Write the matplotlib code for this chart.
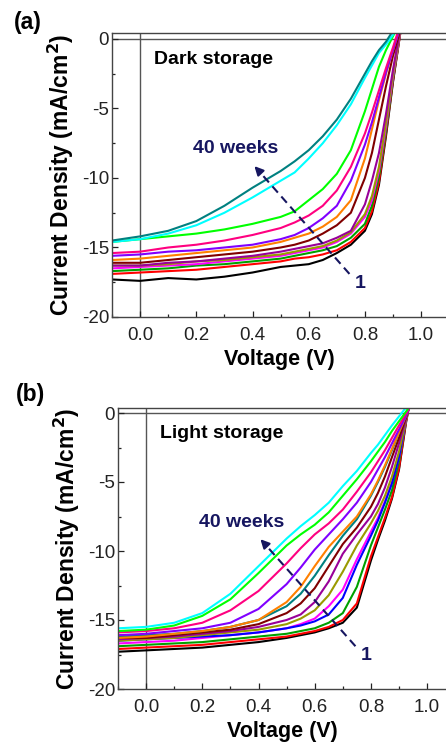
import matplotlib
matplotlib.use("Agg")
import matplotlib.pyplot as plt
from matplotlib.ticker import MultipleLocator

plt.rcParams['font.family'] = ['Liberation Sans', 'DejaVu Sans']

# shared voltage grid (V)
voltage = [-0.1, 0.0, 0.1, 0.2, 0.3, 0.4, 0.5, 0.55, 0.6, 0.65, 0.7, 0.75,
           0.8, 0.825, 0.85, 0.875, 0.9, 0.925, 0.95]

# (a) dark storage, current density (mA/cm2), week 1 -> week 40
dark_black = [-17.3, -17.4, -17.2, -17.3, -17.1, -16.8, -16.4, -16.3, -16.2, -15.9, -15.4, -14.8, -13.8, -12.6, -10.5, -7.0, -3.1, 0.3, 3.0]
dark_red = [-16.9, -16.8, -16.7, -16.6, -16.4, -16.2, -16.0, -15.8, -15.7, -15.5, -15.2, -14.6, -13.6, -12.4, -10.3, -6.8, -3.0, 0.3, 3.0]
dark_green = [-16.7, -16.6, -16.5, -16.3, -16.2, -16.0, -15.8, -15.6, -15.4, -15.2, -14.9, -14.3, -13.3, -12.0, -9.9, -6.6, -2.9, 0.4, 3.0]
dark_magenta = [-16.5, -16.4, -16.3, -16.2, -16.0, -15.8, -15.6, -15.4, -15.2, -15.0, -14.6, -14.0, -12.8, -11.6, -9.5, -6.3, -2.7, 0.4, 3.0]
dark_olive = [-16.3, -16.3, -16.2, -16.0, -15.9, -15.7, -15.5, -15.3, -15.1, -14.9, -14.5, -13.9, -12.6, -11.3, -9.2, -6.0, -2.5, 0.5, 3.0]
dark_purple = [-16.3, -16.3, -16.1, -16.0, -15.8, -15.6, -15.3, -15.1, -14.9, -14.7, -14.3, -13.8, -11.9, -10.2, -8.2, -5.4, -2.2, 0.6, 3.0]
dark_maroon = [-16.1, -16.1, -15.9, -15.7, -15.5, -15.3, -15.0, -14.8, -14.5, -14.0, -13.4, -12.5, -10.0, -8.2, -5.8, -3.4, -1.2, 0.6, 2.4]
dark_orange = [-15.9, -15.8, -15.6, -15.4, -15.2, -15.0, -14.6, -14.3, -14.0, -13.5, -12.8, -11.6, -8.6, -6.5, -4.4, -2.5, -0.8, 0.8, 2.4]
dark_violet = [-15.6, -15.5, -15.3, -15.2, -15.0, -14.8, -14.4, -14.1, -13.6, -12.9, -12.0, -10.2, -7.6, -6.0, -4.2, -2.4, -0.8, 0.8, 2.4]
dark_pink = [-15.4, -15.3, -15.0, -14.8, -14.5, -14.1, -13.6, -13.2, -12.7, -12.0, -10.9, -9.2, -6.8, -5.3, -3.7, -2.1, -0.6, 1.0, 2.5]
dark_lime = [-14.6, -14.4, -14.2, -14.0, -13.7, -13.3, -12.8, -12.4, -11.6, -10.8, -9.7, -8.0, -5.2, -3.6, -2.0, -0.8, 0.2, 1.2, 2.2]
dark_cyan = [-14.6, -14.4, -14.0, -13.4, -12.5, -11.4, -10.2, -9.6, -8.6, -7.5, -6.2, -4.7, -2.8, -1.9, -1.0, -0.4, 0.3, 1.2, 2.2]
dark_teal = [-14.5, -14.2, -13.8, -13.1, -12.0, -10.7, -9.5, -8.8, -8.0, -7.0, -5.8, -4.3, -2.5, -1.6, -0.8, -0.2, 0.6, 1.5, 2.5]

# (b) light storage
light_black = [-17.3, -17.2, -17.1, -17.0, -16.8, -16.6, -16.3, -16.1, -15.9, -15.6, -15.2, -14.1, -10.7, -9.2, -7.8, -6.2, -4.1, -0.7, 2.0]
light_red = [-17.1, -17.0, -16.9, -16.8, -16.6, -16.4, -16.2, -16.0, -15.8, -15.5, -15.0, -13.8, -10.4, -9.0, -7.6, -6.1, -4.0, -0.6, 2.0]
light_green = [-16.9, -16.8, -16.7, -16.6, -16.4, -16.2, -16.0, -15.8, -15.6, -15.2, -14.5, -12.6, -9.6, -8.3, -7.0, -5.6, -3.5, -0.5, 2.0]
light_magenta = [-16.7, -16.6, -16.5, -16.3, -16.1, -15.9, -15.6, -15.3, -14.9, -14.0, -12.8, -10.6, -8.6, -7.6, -6.4, -5.0, -3.2, -0.5, 2.0]
light_blue = [-16.5, -16.4, -16.3, -16.2, -16.1, -15.9, -15.6, -15.4, -15.1, -14.6, -13.4, -11.0, -8.9, -7.8, -6.5, -5.1, -3.2, -0.4, 2.0]
light_olive = [-16.5, -16.4, -16.3, -16.1, -15.9, -15.7, -15.3, -14.9, -14.3, -13.2, -11.5, -9.6, -8.0, -7.1, -6.0, -4.6, -2.8, -0.5, 1.8]
light_purple = [-16.4, -16.3, -16.2, -16.0, -15.8, -15.5, -15.0, -14.6, -13.7, -12.2, -10.2, -8.8, -7.5, -6.6, -5.4, -3.9, -2.2, -0.4, 1.6]
light_maroon = [-16.3, -16.3, -16.1, -15.9, -15.7, -15.3, -14.5, -13.8, -12.7, -11.1, -9.5, -8.3, -6.8, -5.8, -4.6, -3.2, -1.8, -0.3, 1.4]
light_teal = [-16.2, -16.1, -16.0, -15.8, -15.5, -15.0, -14.0, -13.1, -11.8, -10.3, -8.9, -7.7, -6.0, -5.0, -3.9, -2.7, -1.4, -0.2, 1.2]
light_orange = [-16.3, -16.2, -16.0, -15.8, -15.5, -15.0, -13.7, -12.6, -11.1, -9.7, -8.6, -7.5, -5.9, -4.9, -3.8, -2.6, -1.4, -0.2, 1.2]
light_violet = [-16.1, -16.0, -15.8, -15.6, -15.2, -14.2, -12.4, -11.2, -9.9, -8.8, -7.7, -6.5, -5.0, -4.1, -3.2, -2.2, -1.2, -0.2, 1.0]
light_pink = [-15.9, -15.8, -15.6, -15.2, -14.3, -12.9, -10.9, -9.8, -8.8, -8.0, -7.0, -5.7, -4.3, -3.5, -2.7, -1.8, -0.9, -0.05, 0.8]
light_lime = [-15.8, -15.7, -15.4, -14.7, -13.5, -11.6, -9.6, -8.8, -8.1, -7.2, -6.0, -4.8, -3.5, -2.8, -2.1, -1.3, -0.6, 0.1, 0.8]
light_cyan = [-15.6, -15.5, -15.2, -14.5, -13.1, -11.1, -9.1, -8.2, -7.4, -6.5, -5.3, -4.2, -2.9, -2.3, -1.6, -0.9, -0.25, 0.4, 1.0]

dark_series = [
    (dark_black, '#000000'), (dark_red, '#ff0000'), (dark_green, '#00a000'),
    (dark_magenta, '#ff00ff'), (dark_olive, '#9a9a00'), (dark_purple, '#990099'),
    (dark_maroon, '#800000'), (dark_orange, '#ff8000'), (dark_violet, '#8000ff'),
    (dark_pink, '#ff0080'), (dark_lime, '#00ff00'), (dark_cyan, '#00ffff'),
    (dark_teal, '#008080'),
]
light_series = [
    (light_black, '#000000'), (light_red, '#ff0000'), (light_green, '#00a000'),
    (light_magenta, '#ff00ff'), (light_blue, '#0000ff'), (light_olive, '#9a9a00'),
    (light_purple, '#990099'), (light_maroon, '#800000'), (light_teal, '#008080'),
    (light_orange, '#ff8000'), (light_violet, '#8000ff'), (light_pink, '#ff0080'),
    (light_lime, '#00ff00'), (light_cyan, '#00ffff'),
]

NAVY = '#161660'


def draw_panel(ax, series, xmax, ytop, storage_label):
    ax.axhline(0, color='#555555', lw=1.0, zorder=1)
    ax.axvline(0, color='#555555', lw=1.0, zorder=1)
    for values, color in series:
        ax.plot(voltage, values, color=color, lw=1.5, zorder=2)
    ax.set_xlim(-0.1, xmax)
    ax.set_ylim(-20, ytop)
    ax.xaxis.set_minor_locator(MultipleLocator(0.1))
    ax.yaxis.set_minor_locator(MultipleLocator(2.5))
    ax.set_yticks([0, -5, -10, -15, -20])
    ax.set_yticklabels(['0', '-5', '-10', '-15', '-20'])
    ax.set_xticks([0.0, 0.2, 0.4, 0.6, 0.8, 1.0])
    ax.set_xticklabels(['0.0', '0.2', '0.4', '0.6', '0.8', '1.0'])
    ax.tick_params(which='both', direction='in', labelsize=13.5, colors='#222222')
    ax.tick_params(which='major', length=4, width=0.9)
    ax.tick_params(which='minor', length=2.5, width=0.9)
    ax.tick_params(axis='x', pad=7)
    ax.tick_params(axis='y', pad=2)
    for side in ['left', 'bottom', 'top']:
        ax.spines[side].set_color('#444444')
        ax.spines[side].set_linewidth(1.0)
    ax.spines['right'].set_visible(False)
    ax.set_xlabel('Voltage (V)', fontsize=15.5, fontweight='bold', labelpad=4)
    ax.set_ylabel('Current Density (mA/cm$^\\mathbf{2}$)', fontsize=16.5,
                  fontweight='bold', labelpad=4)
    ax.text(0.048, -1.5, storage_label, fontsize=14, fontweight='bold',
            va='center', ha='left')
    # week arrow
    ax.plot([0.745, 0.425], [-16.9, -9.55], ls=(0, (4, 2.5)), color=NAVY, lw=1.5)
    ax.annotate('', xy=(0.40, -9.0), xytext=(0.43, -9.65),
                arrowprops=dict(arrowstyle='-|>', color=NAVY, lw=1.5,
                                mutation_scale=13))
    ax.text(0.34, -7.9, '40 weeks', color=NAVY, fontsize=14, fontweight='bold',
            ha='center', va='center')
    ax.text(0.785, -17.6, '1', color=NAVY, fontsize=14, fontweight='bold',
            ha='center', va='center')


fig = plt.figure(figsize=(4.46, 7.47), dpi=100)
ax_a = fig.add_axes([112 / 446, 430 / 747, 334 / 446, 284 / 747])
ax_b = fig.add_axes([118 / 446, 58 / 747, 328 / 446, 281 / 747])

draw_panel(ax_a, dark_series, -0.1 + 334 / 281, 6 / 13.9, 'Dark storage')
draw_panel(ax_b, light_series, -0.1 + 328 / 281, 5 / 13.8, 'Light storage')

fig.text(14 / 446, 1 - 22 / 747, '(a)', fontsize=16.5, fontweight='bold',
         ha='left', va='center')
fig.text(16 / 446, 1 - 394 / 747, '(b)', fontsize=16.5, fontweight='bold',
         ha='left', va='center')

fig.savefig('out.png', dpi=100)
